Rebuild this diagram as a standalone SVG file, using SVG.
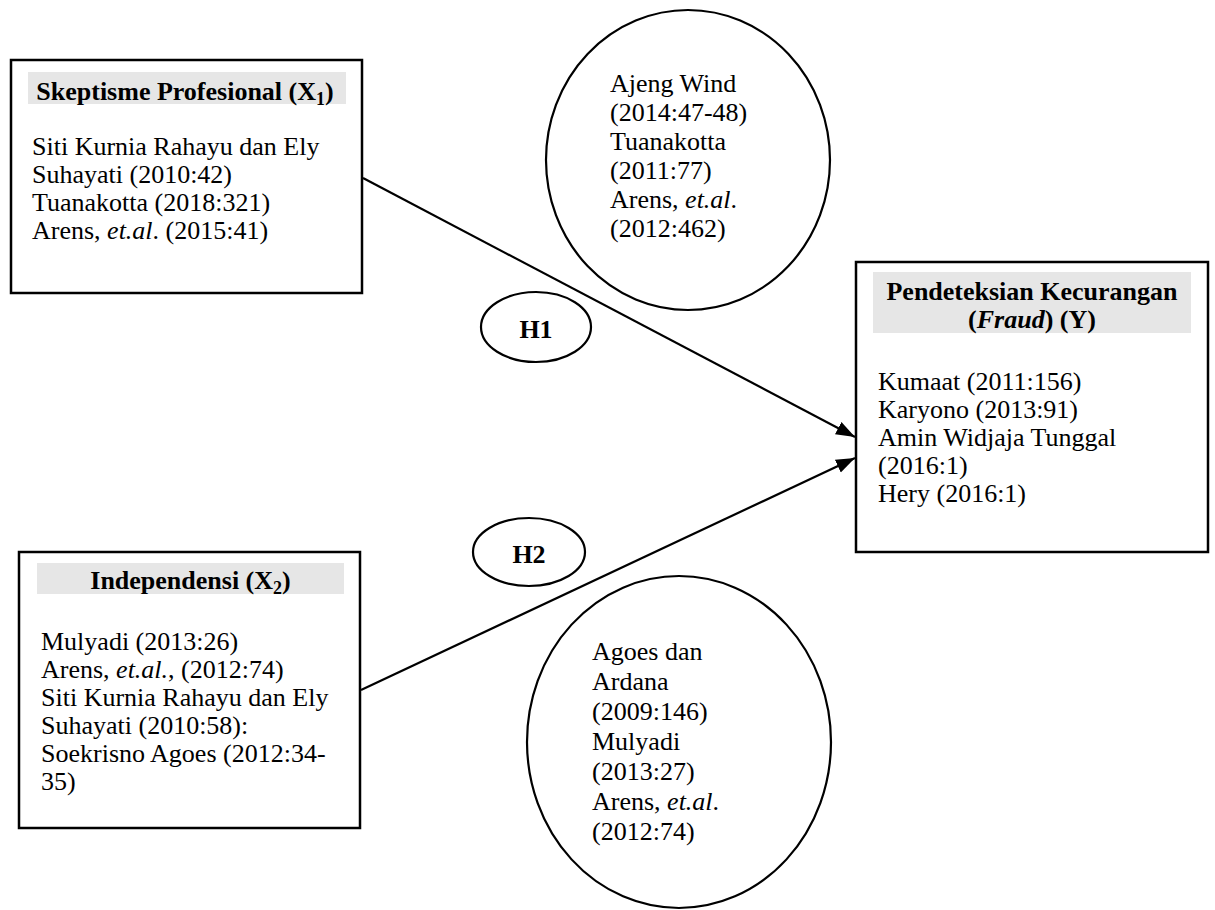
<svg xmlns="http://www.w3.org/2000/svg" width="1215" height="910" viewBox="0 0 1215 910">
<defs>
<marker id="arrow" markerUnits="userSpaceOnUse" markerWidth="20" markerHeight="16" refX="19" refY="8" orient="auto"><path d="M0,1 L19,8 L0,15 z" fill="#000"/></marker>
<style>
.box{fill:#fff;stroke:#000;stroke-width:2.5}
.hdr{fill:#e6e6e6}
.oval{fill:none;stroke:#000;stroke-width:2.2}
.t{font-family:"Liberation Serif","Times New Roman",serif;font-size:26px;fill:#000}
.b{font-weight:bold}
.c{text-anchor:middle}
.edge{stroke:#000;stroke-width:2.2;fill:none;marker-end:url(#arrow)}
</style>
</defs>
<rect width="1215" height="910" fill="#fff"/>

<g id="connectors">
<line class="edge" x1="363" y1="178" x2="855" y2="437"/>
<line class="edge" x1="361" y1="690" x2="855" y2="458"/>
</g>

<g id="node-x1">
<rect class="box" x="11" y="60" width="351" height="233"/>
<rect class="hdr" x="28" y="72" width="318" height="32"/>
<text class="t b c" x="185" y="100">Skeptisme Profesional (X<tspan font-size="18" dy="5">1</tspan><tspan dy="-5">)</tspan></text>
<text class="t" x="32" y="155">Siti Kurnia Rahayu dan Ely</text>
<text class="t" x="32" y="183">Suhayati (2010:42)</text>
<text class="t" x="32" y="211">Tuanakotta (2018:321)</text>
<text class="t" x="32" y="239">Arens, <tspan font-style="italic">et.al</tspan>. (2015:41)</text>
</g>

<g id="node-x2">
<rect class="box" x="19" y="552" width="341" height="276"/>
<rect class="hdr" x="37" y="563" width="307" height="31"/>
<text class="t b c" x="190.5" y="589">Independensi (X<tspan font-size="18" dy="5">2</tspan><tspan dy="-5">)</tspan></text>
<text class="t" x="41" y="650">Mulyadi (2013:26)</text>
<text class="t" x="41" y="678">Arens, <tspan font-style="italic">et.al.</tspan>, (2012:74)</text>
<text class="t" x="41" y="706">Siti Kurnia Rahayu dan Ely</text>
<text class="t" x="41" y="734">Suhayati (2010:58):</text>
<text class="t" x="41" y="762">Soekrisno Agoes (2012:34-</text>
<text class="t" x="41" y="790">35)</text>
</g>

<g id="node-y">
<rect class="box" x="856" y="262" width="352" height="290"/>
<rect class="hdr" x="873" y="272" width="318" height="61"/>
<text class="t b c" x="1032" y="300">Pendeteksian Kecurangan</text>
<text class="t b c" x="1032" y="328">(<tspan font-style="italic">Fraud</tspan>) (Y)</text>
<text class="t" x="878" y="390">Kumaat (2011:156)</text>
<text class="t" x="878" y="418">Karyono (2013:91)</text>
<text class="t" x="878" y="446">Amin Widjaja Tunggal</text>
<text class="t" x="878" y="474">(2016:1)</text>
<text class="t" x="878" y="502">Hery (2016:1)</text>
</g>

<g id="theory-top">
<ellipse class="oval" cx="688" cy="160" rx="142" ry="150"/>
<text class="t" x="610" y="92">Ajeng Wind</text>
<text class="t" x="610" y="121">(2014:47-48)</text>
<text class="t" x="610" y="150">Tuanakotta</text>
<text class="t" x="610" y="179">(2011:77)</text>
<text class="t" x="610" y="208">Arens, <tspan font-style="italic">et.al</tspan>.</text>
<text class="t" x="610" y="237">(2012:462)</text>
</g>

<g id="theory-bottom">
<ellipse class="oval" cx="679" cy="742" rx="152" ry="166"/>
<text class="t" x="592" y="660">Agoes dan</text>
<text class="t" x="592" y="690">Ardana</text>
<text class="t" x="592" y="720">(2009:146)</text>
<text class="t" x="592" y="750">Mulyadi</text>
<text class="t" x="592" y="780">(2013:27)</text>
<text class="t" x="592" y="810">Arens, <tspan font-style="italic">et.al</tspan>.</text>
<text class="t" x="592" y="840">(2012:74)</text>
</g>

<g id="h1">
<ellipse class="oval" cx="536" cy="327" rx="55" ry="35"/>
<text class="t b c" x="536" y="338">H1</text>
</g>

<g id="h2">
<ellipse class="oval" cx="529" cy="552" rx="56" ry="34"/>
<text class="t b c" x="529" y="563">H2</text>
</g>
</svg>
